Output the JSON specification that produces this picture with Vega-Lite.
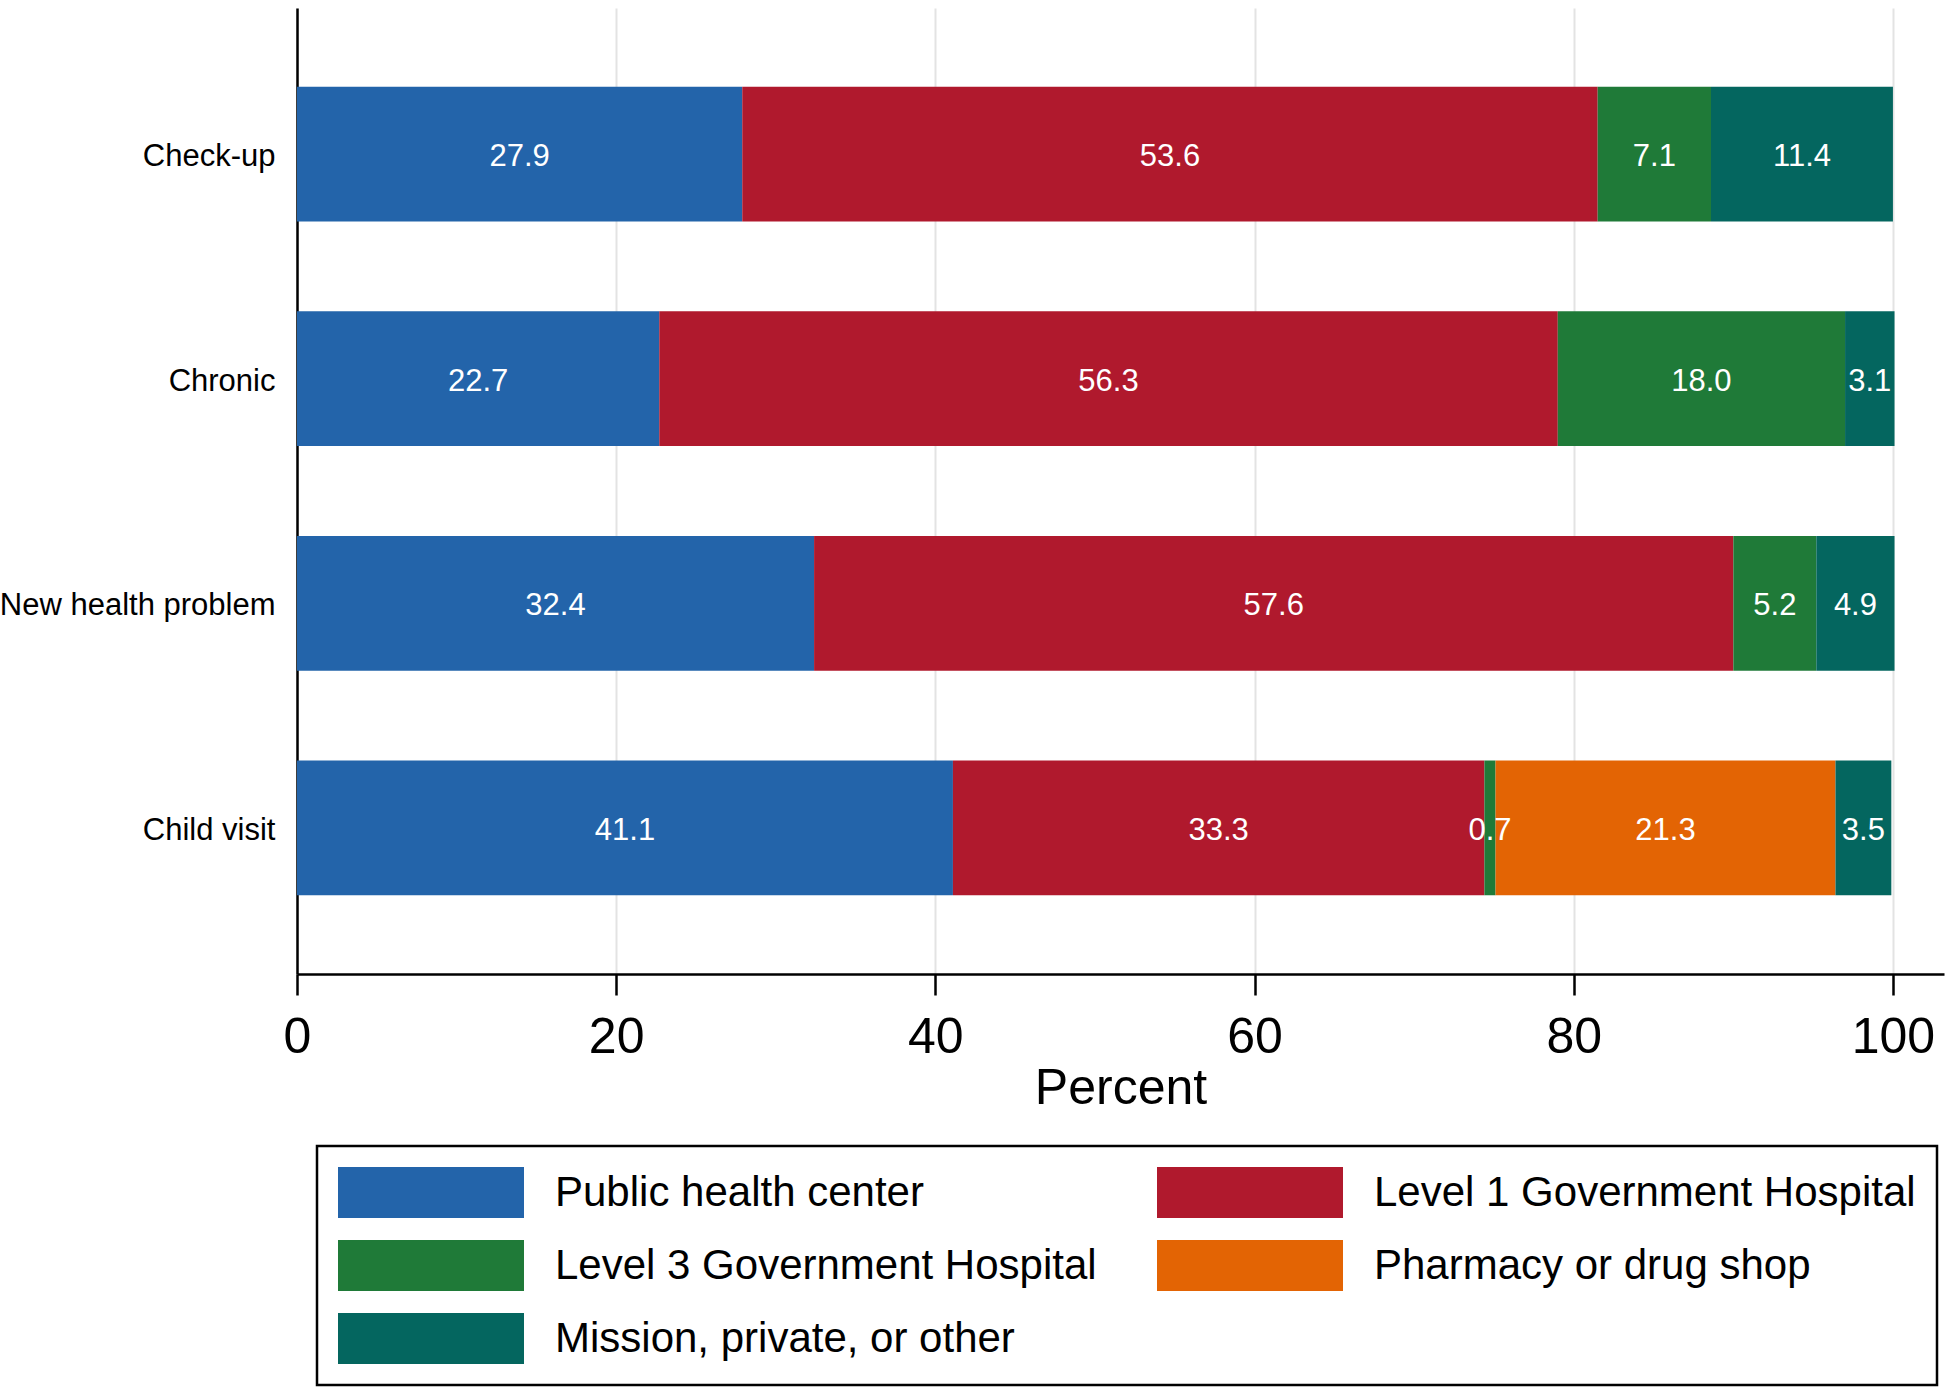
{
  "$schema": "https://vega.github.io/schema/vega-lite/v6.json",
  "width": 1647,
  "height": 966,
  "autosize": {"type": "none"},
  "padding": {"left": 297, "top": 8, "right": 7, "bottom": 414},
  "background": "white",
  "config": {
    "font": "Liberation Sans",
    "view": {"stroke": null},
    "legend": {"strokeWidth": 2.5}
  },
  "data": {
    "values": [
      {"task": "Check-up", "source": "Public health center", "k": 1, "value": 27.9},
      {"task": "Check-up", "source": "Level 1 Government Hospital", "k": 2, "value": 53.6},
      {"task": "Check-up", "source": "Level 3 Government Hospital", "k": 3, "value": 7.1},
      {"task": "Check-up", "source": "Mission, private, or other", "k": 5, "value": 11.4},
      {"task": "Chronic", "source": "Public health center", "k": 1, "value": 22.7},
      {"task": "Chronic", "source": "Level 1 Government Hospital", "k": 2, "value": 56.3},
      {"task": "Chronic", "source": "Level 3 Government Hospital", "k": 3, "value": 18.0},
      {"task": "Chronic", "source": "Mission, private, or other", "k": 5, "value": 3.1},
      {"task": "New health problem", "source": "Public health center", "k": 1, "value": 32.4},
      {"task": "New health problem", "source": "Level 1 Government Hospital", "k": 2, "value": 57.6},
      {"task": "New health problem", "source": "Level 3 Government Hospital", "k": 3, "value": 5.2},
      {"task": "New health problem", "source": "Mission, private, or other", "k": 5, "value": 4.9},
      {"task": "Child visit", "source": "Public health center", "k": 1, "value": 41.1},
      {"task": "Child visit", "source": "Level 1 Government Hospital", "k": 2, "value": 33.3},
      {"task": "Child visit", "source": "Level 3 Government Hospital", "k": 3, "value": 0.7},
      {"task": "Child visit", "source": "Pharmacy or drug shop", "k": 4, "value": 21.3},
      {"task": "Child visit", "source": "Mission, private, or other", "k": 5, "value": 3.5}
    ]
  },
  "transform": [
    {"stack": "value", "groupby": ["task"], "sort": [{"field": "k", "order": "ascending"}], "as": ["x0", "x1"]}
  ],
  "layer": [
    {
      "mark": {"type": "bar"},
      "encoding": {
        "y": {
          "field": "task", "type": "nominal", "title": null,
          "sort": ["Check-up", "Chronic", "New health problem", "Child visit"],
          "scale": {"paddingInner": 0.4, "paddingOuter": 0.35},
          "axis": {"domainColor": "black", "domainWidth": 2.5, "ticks": false, "labelFontSize": 31, "labelPadding": 22, "labelOffset": 3, "labelColor": "black", "grid": false, "labelLimit": 1000}
        },
        "x": {
          "field": "x0", "type": "quantitative", "title": "Percent",
          "scale": {"domain": [0, 103.2], "nice": false, "zero": false},
          "axis": {
            "values": [0, 20, 40, 60, 80, 100], "format": "d",
            "labelFontSize": 50, "labelColor": "black", "labelFlush": false, "labelOverlap": false,
            "tickColor": "black", "tickSize": 21, "tickWidth": 2.5,
            "domainColor": "black", "domainWidth": 2.5, "labelPadding": 17,
            "grid": true, "gridColor": "#e3e3e3", "gridWidth": 2,
            "titleFontSize": 50, "titleFontWeight": "normal", "titleColor": "black",
            "titleY": 129, "titleBaseline": "alphabetic"
          }
        },
        "x2": {"field": "x1"},
        "color": {
          "field": "source", "type": "nominal",
          "scale": {
            "domain": ["Public health center", "Level 1 Government Hospital", "Level 3 Government Hospital", "Pharmacy or drug shop", "Mission, private, or other"],
            "range": ["#2364aa", "#b0192d", "#1f7a38", "#e36404", "#04665f"]
          },
          "legend": {
            "title": null, "orient": "none", "legendX": 20, "legendY": 1138, "columns": 2, "direction": "horizontal",
            "symbolType": "M-1,-1L6.294,-1L6.294,1L-1,1Z", "symbolSize": 2601,
            "symbolStrokeWidth": 0, "symbolOpacity": 1,
            "labelFontSize": 42, "labelColor": "black", "labelLimit": 1000, "labelOffset": 166,
            "columnPadding": 60, "rowPadding": 22, "padding": 21, "strokeColor": "black"
          }
        }
      }
    },
    {
      "transform": [{"fold": ["x0", "x1"], "as": ["edge", "pos"]}],
      "mark": {"type": "text", "color": "white", "fontSize": 31, "baseline": "middle", "align": "center", "dy": 3},
      "encoding": {
        "y": {"field": "task", "type": "nominal", "title": null, "sort": ["Check-up", "Chronic", "New health problem", "Child visit"]},
        "x": {"field": "pos", "aggregate": "mean", "type": "quantitative", "title": "Percent"},
        "text": {"field": "value", "type": "quantitative", "format": ".1f"},
        "detail": {"field": "source", "type": "nominal"}
      }
    }
  ]
}
